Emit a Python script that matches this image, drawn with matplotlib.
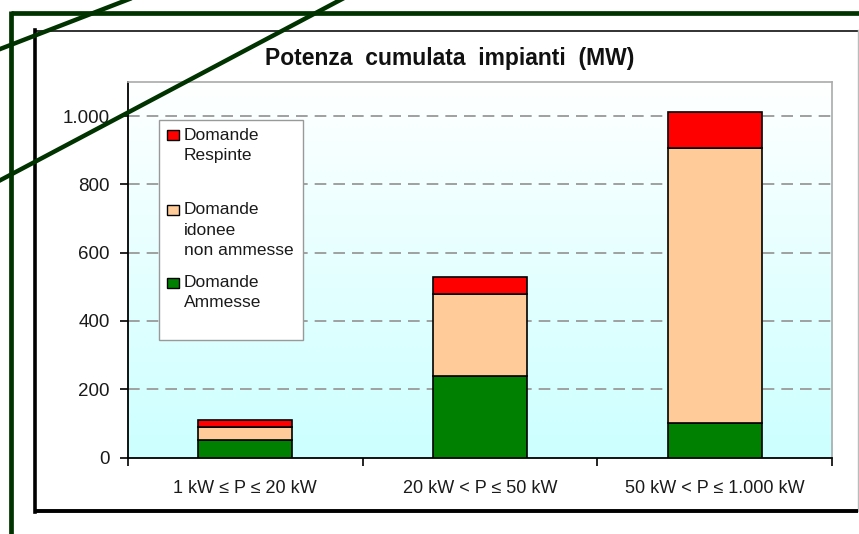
import numpy as np
import matplotlib
matplotlib.use("Agg")
import matplotlib.pyplot as plt
from matplotlib.lines import Line2D
from matplotlib.patches import Rectangle
from matplotlib.ticker import FuncFormatter, FixedLocator
from matplotlib.colors import LinearSegmentedColormap

plt.rcParams['font.family'] = ['Liberation Sans', 'DejaVu Sans']

# ---- data ----
categories = ["1 kW \u2264 P \u2264 20 kW", "20 kW < P \u2264 50 kW", "50 kW < P \u2264 1.000 kW"]
ammesse = [50, 238, 101]
idonee_non_ammesse = [39, 240, 805]
respinte = [20, 51, 107]
series_labels = ["Domande\nAmmesse", "Domande\nidonee\nnon ammesse", "Domande\nRespinte"]
series_colors = ["#008000", "#FFCC99", "#FF0000"]
title = "Potenza  cumulata  impianti  (MW)"
yticks = [0, 200, 400, 600, 800, 1000]

W, H = 859, 534
fig = plt.figure(figsize=(W / 100, H / 100), dpi=100)
fig.patch.set_facecolor("white")

def fx(x):
    return x / W

def fy(y):
    return 1 - y / H

# ---- chart area frame ----
fig.add_artist(Rectangle((fx(35), fy(511)), fx(858) - fx(35), fy(30) - fy(511),
                         transform=fig.transFigure, facecolor="white", edgecolor="none", zorder=0))
fig.add_artist(Line2D([fx(35), fx(858)], [fy(30.5), fy(30.5)], transform=fig.transFigure,
                      color="#222222", lw=1.3, zorder=1))
fig.add_artist(Line2D([fx(857.5), fx(857.5)], [fy(30), fy(511)], transform=fig.transFigure,
                      color="#bbbbbb", lw=1.0, zorder=1))
fig.add_artist(Line2D([fx(35), fx(35)], [fy(30), fy(512)], transform=fig.transFigure,
                      color="black", lw=2.6, zorder=1, solid_capstyle="projecting"))
fig.add_artist(Line2D([fx(35), fx(858)], [fy(511), fy(511)], transform=fig.transFigure,
                      color="black", lw=2.8, zorder=1, solid_capstyle="butt"))

# ---- axes ----
ax = fig.add_axes([fx(128), fy(457.5), fx(832) - fx(128), fy(82) - fy(457.5)])
ax.set_xlim(-0.5, 2.5)
ax.set_ylim(0, 1100)

# gradient background
grad = np.linspace(0, 1, 256).reshape(-1, 1)
cmap = LinearSegmentedColormap.from_list("bg", ["#CCFFFF", "#FFFFFF"])
ax.imshow(grad, extent=[0, 1, 0, 1], transform=ax.transAxes, cmap=cmap,
          origin="lower", aspect="auto", zorder=0)

x = np.arange(len(categories))
bw = 0.4
ax.bar(x, ammesse, bw, color=series_colors[0], edgecolor="black", linewidth=1.2, zorder=3)
ax.bar(x, idonee_non_ammesse, bw, bottom=ammesse, color=series_colors[1],
       edgecolor="black", linewidth=1.2, zorder=3)
bottom3 = [a + b for a, b in zip(ammesse, idonee_non_ammesse)]
ax.bar(x, respinte, bw, bottom=bottom3, color=series_colors[2],
       edgecolor="black", linewidth=1.2, zorder=3)

# grid
for v in yticks[1:]:
    ax.axhline(v, color="#A0A0A0", lw=1.4, linestyle=(0, (6.0, 3.6)), zorder=1)

ax.yaxis.set_major_locator(FixedLocator(yticks))
ax.yaxis.set_major_formatter(FuncFormatter(lambda v, p: f"{int(v):,}".replace(",", ".")))
ax.set_xticks(x)
ax.set_xticklabels(categories)
ax.set_xticks([-0.5, 0.5, 1.5, 2.5], minor=True)
ax.tick_params(axis="x", which="major", length=0, pad=16, labelsize=13, labelcolor="#1a1a1a")
ax.tick_params(axis="x", which="minor", length=6, width=1.2, direction="out", color="black")
ax.tick_params(axis="y", which="major", length=6, width=1.2, direction="out", pad=7,
               labelsize=13.5, color="black", labelcolor="#1a1a1a")

ax.spines["left"].set_color("black")
ax.spines["left"].set_linewidth(1.3)
ax.spines["bottom"].set_color("black")
ax.spines["bottom"].set_linewidth(1.3)
ax.spines["top"].set_color("#aaaaaa")
ax.spines["top"].set_linewidth(1.2)
ax.spines["right"].set_color("#aaaaaa")
ax.spines["right"].set_linewidth(1.2)

# title
fig.text(fx(450), fy(58), title, ha="center", va="center", fontsize=16.5,
         fontweight="bold", color="#111111", zorder=5)

# ---- legend (manual) ----
fig.add_artist(Rectangle((fx(159), fy(340)), fx(303) - fx(159), fy(120) - fy(340),
                         transform=fig.transFigure, facecolor="white", edgecolor="#999999",
                         lw=1.0, zorder=6))
leg_entries = [(series_labels[2], series_colors[2], 135.5),
               (series_labels[1], series_colors[1], 210.5),
               (series_labels[0], series_colors[0], 283)]
for lab, col, yc in leg_entries:
    fig.add_artist(Rectangle((fx(167), fy(yc + 5)), fx(12) - fx(0), fy(0) - fy(10),
                             transform=fig.transFigure, facecolor=col, edgecolor="black",
                             lw=1.0, zorder=7))
    fig.text(fx(184), fy(yc - 8), lab, ha="left", va="top", fontsize=12.5,
             color="#1a1a1a", linespacing=1.45, zorder=7)

# ---- decorative dark green slide lines ----
green = "#003300"
fig.add_artist(Line2D([fx(11), fx(860)], [fy(13), fy(13)], transform=fig.transFigure,
                      color=green, lw=3.4, zorder=10, solid_capstyle="butt"))
fig.add_artist(Line2D([fx(11), fx(11)], [fy(11), fy(540)], transform=fig.transFigure,
                      color=green, lw=3.4, zorder=10, solid_capstyle="butt"))
fig.add_artist(Line2D([fx(-5), fx(132)], [fy(51), fy(-2)], transform=fig.transFigure,
                      color=green, lw=3.2, zorder=10))
fig.add_artist(Line2D([fx(-5), fx(344)], [fy(183), fy(-2)], transform=fig.transFigure,
                      color=green, lw=3.2, zorder=10))

fig.savefig("out.png", dpi=100)
